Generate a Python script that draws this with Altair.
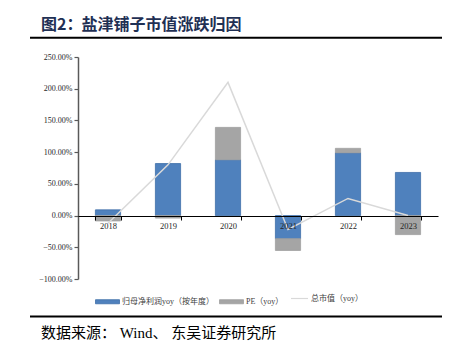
import altair as alt
import pandas as pd

years = ["2018", "2019", "2020", "2021", "2022", "2023"]
profit_yoy = [0.09, 0.82, 0.88, -0.365, 0.99, 0.68]
pe_yoy = [-0.085, -0.04, 0.51, -0.185, 0.07, -0.30]
mktcap_yoy = [-0.12, 0.80, 2.10, -0.22, 0.27, 0.00]

s_profit = "归母净利润yoy（按年度）"
s_pe = "PE（yoy）"
s_mkt = "总市值（yoy）"

title_prefix = "图2："
title_text = "盐津铺子市值涨跌归因"
source_text = "数据来源： Wind、 东吴证券研究所"
y_ticks = [-1.0, -0.5, 0.0, 0.5, 1.0, 1.5, 2.0, 2.5]

bars = pd.DataFrame(
    [{"year": y, "series": s_profit, "value": v, "order": 0} for y, v in zip(years, profit_yoy)]
    + [{"year": y, "series": s_pe, "value": v, "order": 1} for y, v in zip(years, pe_yoy)]
)
line_df = pd.DataFrame({"year": years, "value": mktcap_yoy, "series": [s_mkt] * len(years)})

W, H = 360, 222
serif = "Liberation Serif, Noto Sans CJK SC"
cjk = "Noto Sans CJK SC"

x_scale = alt.Scale(paddingInner=0.58, paddingOuter=0.29)
x_axis = alt.Axis(
    title=None, orient="bottom", offset=-63, zindex=1, labelAngle=0, grid=False,
    tickBand="extent", tickSize=4, tickColor="#000000", tickWidth=1,
    domainColor="#000000", domainWidth=1.2,
    labelFont=serif, labelFontSize=8.5, labelColor="#262626", labelPadding=1,
)
y_scale = alt.Scale(domain=[-1.0, 2.5], nice=False, zero=False)
y_axis = alt.Axis(
    title=None, values=y_ticks, format=".2%", grid=False, labelOverlap=False,
    tickSize=4, tickColor="#595959", tickWidth=1.2,
    domainColor="#595959", domainWidth=1.5,
    labelFont=serif, labelFontSize=8, labelColor="#262626", labelPadding=2,
)

bar_layer = alt.Chart(bars).mark_bar(strokeWidth=0.8).encode(
    x=alt.X("year:N", sort=years, scale=x_scale, axis=x_axis),
    y=alt.Y("value:Q", scale=y_scale, axis=y_axis, stack="zero"),
    order=alt.Order("order:Q"),
    color=alt.Color(
        "series:N",
        scale=alt.Scale(domain=[s_profit, s_pe], range=["#4f81bd", "#a5a5a5"]),
        legend=alt.Legend(
            title=None, orient="none", legendX=17, legendY=232, direction="horizontal",
            symbolType="M-1,-0.17H1V0.17H-1Z", symbolSize=576,
            symbolStrokeWidth=0.8,
            labelFont=serif, labelFontSize=8, labelColor="#404040",
            labelOffset=2, columnPadding=3, labelLimit=300,
        ),
    ),
    stroke=alt.Stroke(
        "series:N",
        scale=alt.Scale(domain=[s_profit, s_pe], range=["#3f6ea8", "#a0a0a0"]),
        legend=None,
    ),
)

line_layer = alt.Chart(line_df).mark_line(strokeWidth=1.5).encode(
    x=alt.X("year:N", sort=years, scale=x_scale, axis=x_axis),
    y=alt.Y("value:Q", scale=y_scale, axis=y_axis),
    color=alt.Color(
        "series:N",
        scale=alt.Scale(domain=[s_mkt], range=["#d9d9d9"]),
        legend=alt.Legend(
            title=None, orient="none", legendX=212, legendY=232, direction="horizontal",
            symbolType="stroke", symbolSize=289, symbolStrokeWidth=1.2,
            labelFont=serif, labelFontSize=8, labelColor="#404040",
            labelOffset=2, labelLimit=300,
        ),
    ),
)

dummy = pd.DataFrame({"k": [0]})
title_a = alt.Chart(dummy).mark_text(
    text=title_prefix, font=cjk, fontSize=16, fontWeight="bold", color="#1f3054",
    align="left", baseline="middle",
).encode(x=alt.value(-37), y=alt.value(-32))
title_b = alt.Chart(dummy).mark_text(
    text=title_text, font=cjk, fontSize=16, fontWeight="bold", color="#1f3054",
    align="left", baseline="middle",
).encode(x=alt.value(3.5), y=alt.value(-32))
source_mark = alt.Chart(dummy).mark_text(
    text=source_text, font=serif, fontSize=15, color="#000000",
    align="left", baseline="middle",
).encode(x=alt.value(-37), y=alt.value(276))
top_rule = alt.Chart(dummy).mark_rule(color="#000000", strokeWidth=2).encode(
    x=alt.value(-48), x2=alt.value(364), y=alt.value(-19.3)
)
bottom_rule = alt.Chart(dummy).mark_rule(color="#000000", strokeWidth=2).encode(
    x=alt.value(-48), x2=alt.value(364), y=alt.value(259.5)
)

chart = alt.layer(
    bar_layer, line_layer, title_a, title_b, source_mark, top_rule, bottom_rule
).resolve_scale(color="independent", stroke="independent").properties(
    width=W, height=H,
    autosize=alt.AutoSizeParams(type="none"),
    padding={"left": 78, "top": 57, "right": 18, "bottom": 75},
).configure(background="#ffffff").configure_view(strokeWidth=0, stroke="transparent")

chart.save("out.html", embed_options={"renderer": "svg", "actions": False})
